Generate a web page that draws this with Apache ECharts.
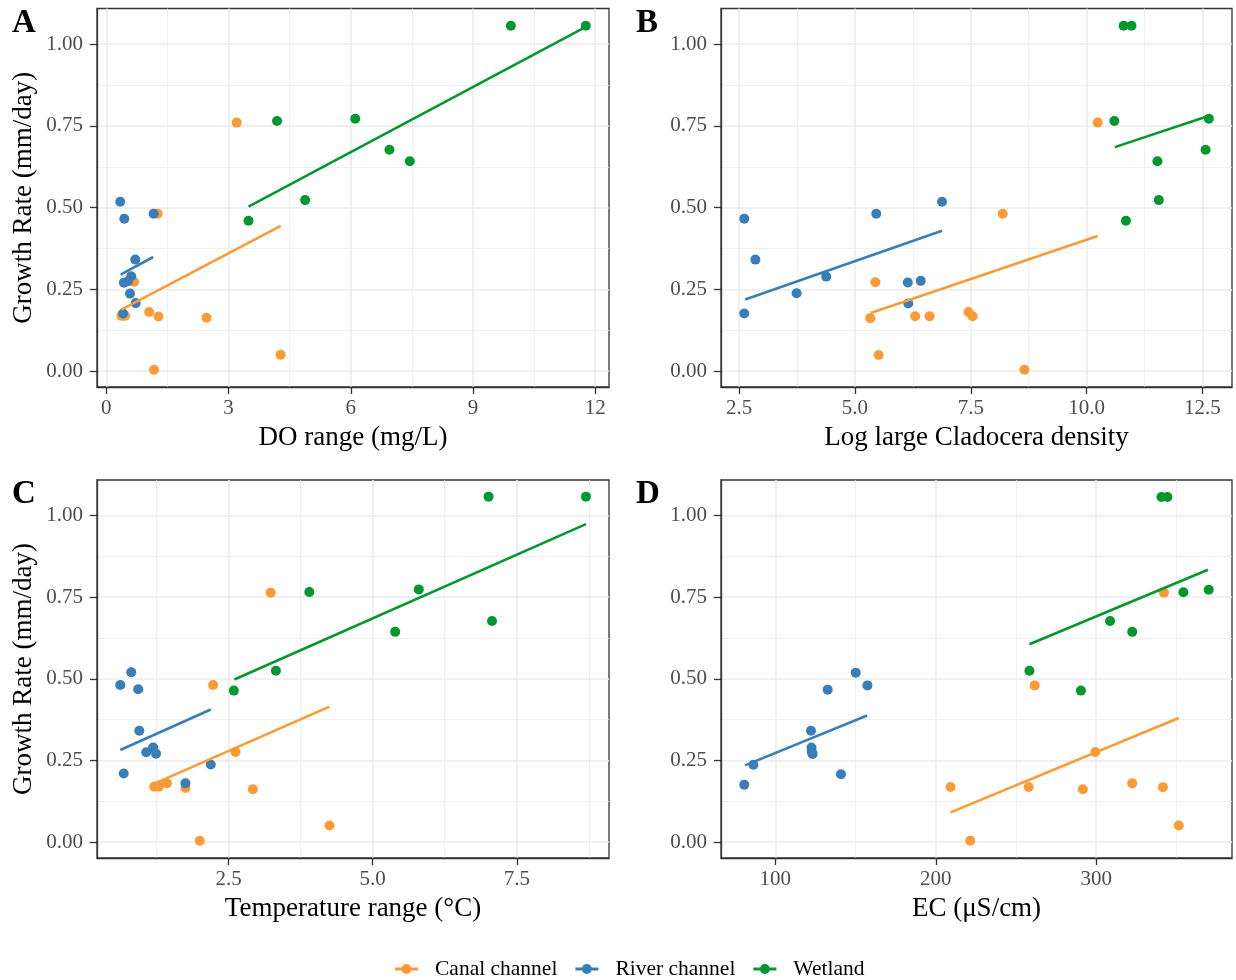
<!DOCTYPE html>
<html>
<head>
<meta charset="utf-8">
<title>Growth rate</title>
<script src="https://cdn.jsdelivr.net/npm/echarts@6/dist/echarts.min.js"></script>
<style>
html, body { margin: 0; padding: 0; background: #fff; }
#chart { width: 1236px; height: 980px; }
</style>
</head>
<body>
<div id="chart"></div>
<script>
var groupNames = ['Canal channel', 'River channel', 'Wetland'];

// shared y axis
var rateTicks = [0, 0.25, 0.5, 0.75, 1];
var rateMinor = [0.125, 0.375, 0.625, 0.875];
var rateRange = [-0.0486, 1.109];

// A - DO range (mg/L)
var doTicks = [0, 3, 6, 9, 12];
var doMinor = [1.5, 4.5, 7.5, 10.5];
var doRange = [-0.23, 12.34];
var doCanal = [[3.20, 0.760], [1.26, 0.481], [0.68, 0.273], [1.05, 0.181], [1.28, 0.167], [2.46, 0.163], [0.37, 0.169], [0.46, 0.169], [4.28, 0.050], [1.17, 0.004]];
var doRiver = [[0.34, 0.518], [0.44, 0.466], [1.16, 0.481], [0.71, 0.341], [0.61, 0.290], [0.43, 0.270], [0.53, 0.275], [0.58, 0.237], [0.72, 0.208], [0.41, 0.176]];
var doWetland = [[9.93, 1.056], [11.77, 1.056], [4.19, 0.765], [6.11, 0.772], [6.95, 0.677], [7.45, 0.642], [4.88, 0.523], [3.49, 0.460]];
var doFitCanal = [[0.37, 0.188], [4.28, 0.444]];
var doFitRiver = [[0.35, 0.295], [1.15, 0.349]];
var doFitWetland = [[3.49, 0.503], [11.77, 1.053]];

// B - log large Cladocera density
var cladTicks = [2.5, 5, 7.5, 10, 12.5];
var cladMinor = [3.75, 6.25, 8.75, 11.25];
var cladRange = [2.108, 13.14];
var cladCanal = [[5.33, 0.162], [5.44, 0.272], [5.51, 0.049], [6.30, 0.168], [6.61, 0.168], [7.45, 0.181], [7.54, 0.168], [8.19, 0.481], [8.66, 0.004], [10.24, 0.760]];
var cladRiver = [[2.61, 0.466], [2.85, 0.341], [3.74, 0.238], [4.38, 0.289], [2.61, 0.176], [5.46, 0.481], [6.14, 0.271], [6.42, 0.276], [6.15, 0.207], [6.88, 0.518]];
var cladWetland = [[10.80, 1.056], [10.97, 1.056], [10.60, 0.765], [12.64, 0.772], [12.57, 0.677], [11.53, 0.642], [11.56, 0.523], [10.85, 0.460]];
var cladFitCanal = [[5.34, 0.178], [10.24, 0.413]];
var cladFitRiver = [[2.63, 0.219], [6.88, 0.429]];
var cladFitWetland = [[10.61, 0.685], [12.63, 0.780]];

// C - temperature range
var tempTicks = [2.5, 5, 7.5];
var tempMinor = [1.25, 3.75, 6.25, 8.75];
var tempRange = [0.216, 9.10];
var tempCanal = [[3.23, 0.764], [2.23, 0.481], [2.62, 0.276], [2.92, 0.162], [4.25, 0.051], [2.00, 0.004], [1.75, 0.166], [1.43, 0.180], [1.21, 0.170], [1.29, 0.170]];
var tempRiver = [[0.62, 0.481], [0.81, 0.520], [0.93, 0.468], [0.95, 0.341], [1.07, 0.275], [1.19, 0.290], [1.24, 0.271], [0.68, 0.210], [2.19, 0.238], [1.75, 0.180]];
var tempWetland = [[7.01, 1.058], [8.70, 1.058], [3.90, 0.766], [5.80, 0.774], [5.39, 0.644], [7.07, 0.677], [3.32, 0.525], [2.59, 0.464]];
var tempFitCanal = [[1.22, 0.180], [4.25, 0.415]];
var tempFitRiver = [[0.62, 0.282], [2.19, 0.406]];
var tempFitWetland = [[2.60, 0.498], [8.70, 0.974]];

// D - EC
var ecTicks = [100, 200, 300];
var ecMinor = [150, 250, 350];
var ecRange = [66.1, 384.7];
var ecCanal = [[209.2, 0.169], [221.5, 0.004], [261.7, 0.480], [257.9, 0.169], [291.7, 0.162], [299.5, 0.276], [322.5, 0.180], [341.6, 0.168], [342.3, 0.764], [351.5, 0.051]];
var ecRiver = [[80.6, 0.176], [86.3, 0.237], [122.2, 0.341], [122.5, 0.290], [122.7, 0.277], [123.2, 0.270], [132.6, 0.467], [140.9, 0.208], [150.1, 0.519], [157.4, 0.480]];
var ecWetland = [[258.4, 0.525], [290.5, 0.464], [308.7, 0.677], [322.5, 0.644], [340.7, 1.057], [344.4, 1.057], [354.4, 0.765], [370.2, 0.773]];
var ecFitCanal = [[209.2, 0.091], [351.5, 0.380]];
var ecFitRiver = [[81.1, 0.235], [157.2, 0.388]];
var ecFitWetland = [[258.4, 0.606], [369.7, 0.834]];

var colors = ['#FE9A35', '#387EB8', '#03982F'];
var serif = '"Liberation Serif", "Times New Roman", serif';
var dark = '#333333';
var gridColor = '#EBEBEB';

var panels = [
  { letter: 'A', title: 'DO range (mg/L)', ticks: doTicks, minor: doMinor, range: doRange, digits: 0,
    points: [doCanal, doRiver, doWetland], fits: [doFitCanal, doFitRiver, doFitWetland],
    box: { left: 97, top: 8.5, width: 512, height: 378.5 }, yName: true },
  { letter: 'B', title: 'Log large Cladocera density', ticks: cladTicks, minor: cladMinor, range: cladRange, digits: 1,
    points: [cladCanal, cladRiver, cladWetland], fits: [cladFitCanal, cladFitRiver, cladFitWetland],
    box: { left: 721, top: 8.5, width: 511, height: 378.5 }, yName: false },
  { letter: 'C', title: 'Temperature range (°C)', ticks: tempTicks, minor: tempMinor, range: tempRange, digits: 1,
    points: [tempCanal, tempRiver, tempWetland], fits: [tempFitCanal, tempFitRiver, tempFitWetland],
    box: { left: 97, top: 480, width: 512, height: 378 }, yName: true },
  { letter: 'D', title: 'EC (μS/cm)', ticks: ecTicks, minor: ecMinor, range: ecRange, digits: 0,
    points: [ecCanal, ecRiver, ecWetland], fits: [ecFitCanal, ecFitRiver, ecFitWetland],
    box: { left: 721, top: 480, width: 511, height: 378 }, yName: false }
];

var grids = [], xAxes = [], yAxes = [], series = [], graphics = [];

panels.forEach(function(p, k) {
  grids.push({
    left: p.box.left, top: p.box.top, width: p.box.width, height: p.box.height,
    show: true, borderColor: dark, borderWidth: 1.3, backgroundColor: '#fff'
  });
  // major x axis
  xAxes.push({
    type: 'value', gridIndex: k, min: p.range[0], max: p.range[1],
    name: p.title, nameLocation: 'middle', nameGap: 37,
    nameTextStyle: { fontFamily: serif, fontSize: 27, color: '#000' },
    axisLine: { show: true, onZero: false, lineStyle: { color: dark, width: 1.3 } },
    axisTick: { show: true, length: 7, customValues: p.ticks, lineStyle: { color: dark, width: 1.3 } },
    axisLabel: {
      customValues: p.ticks, margin: 11, fontFamily: serif, fontSize: 21, color: '#4D4D4D',
      formatter: (function(d) { return function(v) { return v.toFixed(d); }; })(p.digits)
    },
    splitLine: { show: true, lineStyle: { color: gridColor, width: 1.6 } }
  });
  yAxes.push({
    type: 'value', gridIndex: k, min: rateRange[0], max: rateRange[1],
    name: p.yName ? 'Growth Rate (mm/day)' : '', nameLocation: 'middle', nameGap: 60,
    nameTextStyle: { fontFamily: serif, fontSize: 27, color: '#000' },
    axisLine: { show: true, onZero: false, lineStyle: { color: dark, width: 1.3 } },
    axisTick: { show: true, length: 7, customValues: rateTicks, lineStyle: { color: dark, width: 1.3 } },
    axisLabel: {
      customValues: rateTicks, margin: 14, fontFamily: serif, fontSize: 21, color: '#4D4D4D',
      formatter: function(v) { return v.toFixed(2); }
    },
    splitLine: { show: true, lineStyle: { color: gridColor, width: 1.6 } }
  });

  graphics.push({
    type: 'text', left: p.box.left - 85, top: p.box.top - 2,
    style: { text: p.letter, font: 'bold 33px ' + serif, fill: '#000' }
  });

  for (var g = 0; g < 3; g++) {
    series.push({
      name: groupNames[g], type: 'scatter', xAxisIndex: k, yAxisIndex: k,
      data: p.points[g], symbolSize: 10, z: 3,
      itemStyle: { color: colors[g], opacity: 1 }
    });
  }
  for (var g2 = 0; g2 < 3; g2++) {
    series.push({
      name: groupNames[g2], type: 'line', xAxisIndex: k, yAxisIndex: k,
      data: p.fits[g2], symbol: 'none', z: 4, silent: true,
      itemStyle: { color: colors[g2] },
      lineStyle: { color: colors[g2], width: 2.6 }
    });
  }
});

// minor grid lines: extra invisible axes
panels.forEach(function(p, k) {
  xAxes.push({
    type: 'value', gridIndex: k, min: p.range[0], max: p.range[1],
    axisLine: { show: false }, axisLabel: { show: false },
    axisTick: { show: false, customValues: p.minor },
    splitLine: { show: true, lineStyle: { color: gridColor, width: 0.8 } }
  });
  yAxes.push({
    type: 'value', gridIndex: k, min: rateRange[0], max: rateRange[1],
    axisLine: { show: false }, axisLabel: { show: false },
    axisTick: { show: false, customValues: rateMinor },
    splitLine: { show: true, lineStyle: { color: gridColor, width: 0.8 } }
  });
});

var myechart = echarts.init(document.getElementById('chart'));
myechart.setOption({
  animation: false,
  textStyle: { fontFamily: serif },
  grid: grids,
  xAxis: xAxes,
  yAxis: yAxes,
  series: series,
  graphic: graphics,
  legend: {
    left: 390, top: 953,
    itemWidth: 23, itemHeight: 10, itemGap: 18,
    icon: 'path://M0,3.5L23,3.5L23,6.5L0,6.5Z M6.5,5A5,5,0,1,1,16.5,5A5,5,0,1,1,6.5,5Z',
    data: groupNames,
    textStyle: { fontFamily: serif, fontSize: 21.5, color: '#000', padding: [0, 0, 0, 12] }
  }
});
window.onresize = function() { myechart.resize(); };
</script>
</body>
</html>
